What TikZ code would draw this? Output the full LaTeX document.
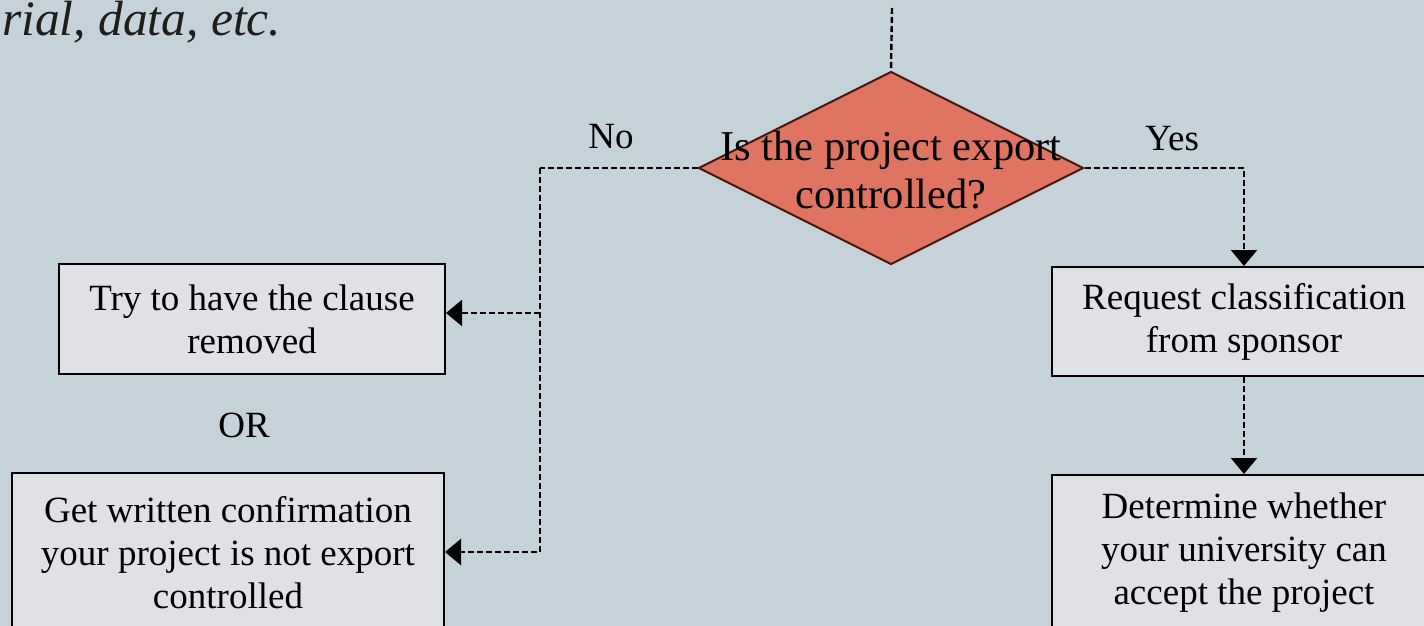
\documentclass[tikz,border=0pt]{standalone}
\usepackage{fontspec}
\setmainfont{Liberation Serif}
\usetikzlibrary{shapes.geometric,arrows.meta}
\definecolor{bg}{HTML}{C5D2D9}
\definecolor{boxfill}{HTML}{DFE1E6}
\definecolor{decfill}{HTML}{E07462}
\definecolor{decline}{HTML}{4A1A12}
\definecolor{toptext}{HTML}{1E1E18}
\begin{document}
\begin{tikzpicture}[x=1pt,y=-1pt,
  box/.style={draw=black,line width=2pt,fill=boxfill,align=center,inner sep=0pt,font=\fontsize{37}{43}\selectfont},
  conn/.style={line width=2.4pt,dash pattern=on 6pt off 3pt,-{Triangle[length=16pt,width=26pt]}},
  plainline/.style={line width=2.4pt,dash pattern=on 6pt off 3pt},
  lbl/.style={font=\fontsize{37}{43}\selectfont,inner sep=0pt}]
\useasboundingbox (0,0) rectangle (1424,626);
\fill[bg] (0,0) rectangle (1424,626);
\clip (0,0) rectangle (1424,626);

\node[anchor=base west,inner sep=0pt,text=toptext,font=\fontsize{49.5}{56}\selectfont\itshape] (top text) at (2,36) {rial, data, etc.};

\node[diamond,draw=decline,line width=2pt,fill=decfill,minimum width=385pt,minimum height=193pt,inner sep=0pt] (dec) at (891,168) {};
\node[lbl,align=center,font=\fontsize{42.5}{48}\selectfont] (dectext) at (891,170) {Is the project export\\controlled?};

\node[box,minimum width=386pt,minimum height=110pt] (A) at (252,319) {Try to have the clause\\removed};
\node[box,minimum width=432pt,minimum height=160pt] (B) at (228,553) {Get written confirmation\\your project is not export\\controlled};
\node[box,minimum width=384pt,minimum height=109pt] (C) at (1244,321.5) {Request classification\\from sponsor};
\node[box,minimum width=384pt,minimum height=156pt] (D) at (1244,553) {Determine whether\\your university can\\accept the project};

\node[lbl,anchor=base] (no) at (611,148) {No};
\node[lbl,anchor=base] (yes) at (1172,150) {Yes};
\node[lbl,anchor=base] (or) at (244,437) {OR};

\coordinate (topend) at (892,8);
\draw[plainline] (topend) -- (dec.north);
\coordinate (nx) at (540,168);
\draw[plainline] (dec.west) -- (nx);
\coordinate (bIn) at ([yshift=1pt]B.east);
\draw[conn] (nx) |- (bIn);
\coordinate (aIn) at ([yshift=6pt]A.east);
\draw[conn] (nx |- aIn) -- (aIn);
\draw[conn] (dec.east) -| (C.north);
\draw[conn] (C.south) -- (D.north);
\end{tikzpicture}
\end{document}
